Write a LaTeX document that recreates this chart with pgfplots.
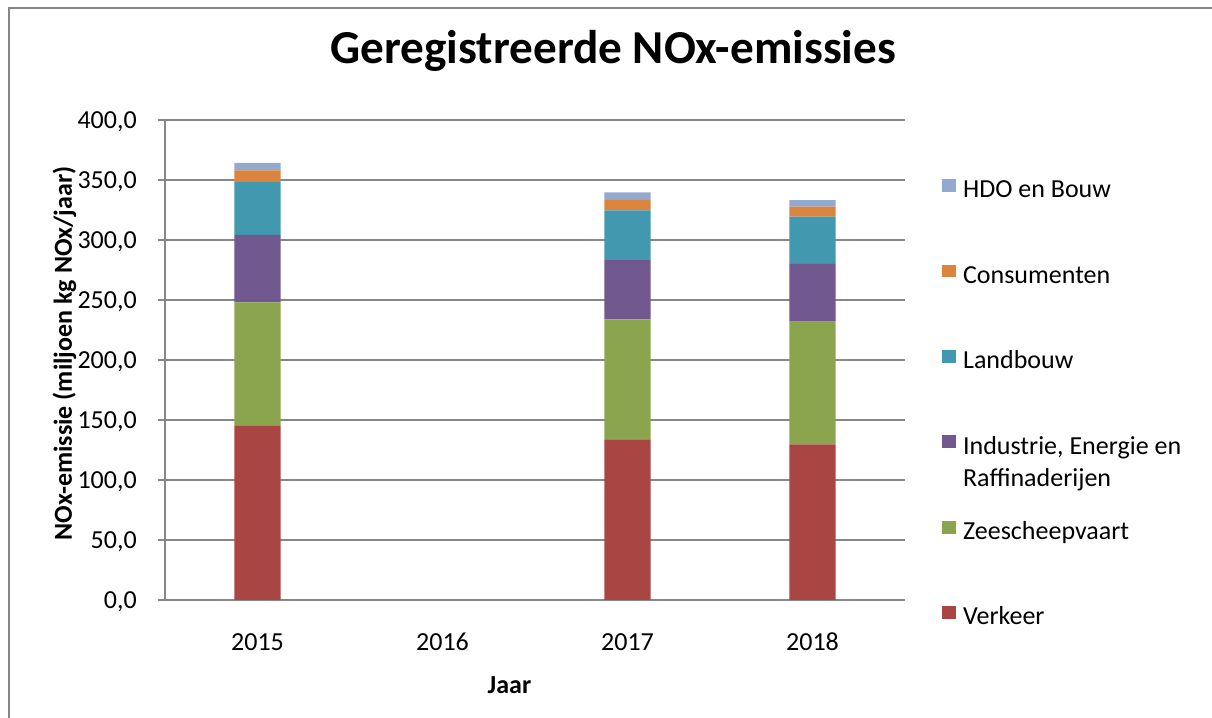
\documentclass[border=0pt]{standalone}
\usepackage{fontspec}
\setmainfont{Carlito}
\usepackage{pgfplots}
\pgfplotsset{compat=1.18}

\definecolor{gridgray}{HTML}{878787}
\definecolor{cVerkeer}{HTML}{A94644}
\definecolor{cZee}{HTML}{8AA54E}
\definecolor{cInd}{HTML}{71588F}
\definecolor{cLand}{HTML}{4198AF}
\definecolor{cCons}{HTML}{DB843D}
\definecolor{cHdo}{HTML}{93A9CF}

\newcommand{\txt}{\fontsize{18.5}{22.8}\selectfont}

\begin{document}
\begin{tikzpicture}
% 1 px of the reference = 0.025cm
\useasboundingbox (0cm,0cm) rectangle (30.3cm,17.95cm);
% outer chart frame (left and top edge visible)
\draw[gridgray, line width=1.4pt] (0.225cm,0cm) -- (0.225cm,17.75cm) -- (30.3cm,17.75cm);

\begin{axis}[
    at={(4.125cm,2.95cm)}, anchor=south west,
    scale only axis,
    width=18.5cm, height=12cm,
    ybar stacked,
    bar width=0.25,
    xmin=-0.5, xmax=3.5,
    ymin=0, ymax=400,
    enlargelimits=false,
    xtick={0,1,2,3},
    xticklabels={2015,2016,2017,2018},
    ytick={0,50,...,400},
    axis x line=bottom, axis y line=left,
    axis line style={-, draw=gridgray, line width=1.1pt},
    ymajorgrids,
    grid style={gridgray, line width=1.1pt},
    xtick style={draw=none},
    ytick style={draw=gridgray, line width=1.1pt},
    tick align=outside,
    major tick length=5pt,
    font=\txt,
    /pgf/number format/.cd, fixed, fixed zerofill, precision=1, use comma,
        assume math mode=true,
    /pgfplots/.cd,
    yticklabel style={anchor=base east, inner sep=0pt, xshift=-14.9pt, yshift=-5.7pt},
    xticklabel style={anchor=base, inner sep=0pt, yshift=-30.6pt},
    xlabel={\bfseries Jaar},
    ylabel={\bfseries NOx-emissie (miljoen kg NOx/jaar)},
    every axis x label/.style={at={(axis description cs:0.4655,-0.194)}, anchor=base},
    every axis y label/.style={at={(axis description cs:-0.1257,0.5135)}, rotate=90, anchor=base},
    title={Geregistreerde NOx-emissies},
    title style={at={(axis description cs:0.606,1.1)}, anchor=base,
        font=\fontsize{33.6}{40}\selectfont\bfseries},
    reverse legend,
    legend cell align=left,
    legend style={at={(axis description cs:1.05,0.877)}, anchor=north west,
        draw=none, inner sep=0pt, outer sep=0pt,
        row sep=43.6pt, column sep=5pt,
        nodes={inner sep=0pt, text height=12pt, text depth=4pt}},
    legend image code/.code={\fill[#1, draw=none] (0pt,0pt) rectangle (10pt,9.2pt);},
]
\addplot[fill=cVerkeer, draw=none] coordinates {(0,145.6) (2,133.9) (3,129.7)};
\addlegendentry{Verkeer}
\addplot[fill=cZee, draw=none] coordinates {(0,102.4) (2,100.0) (3,102.3)};
\addlegendentry{Zeescheepvaart}
\addplot[fill=cInd, draw=none] coordinates {(0,56.2) (2,49.4) (3,48.0)};
\addlegendentry{\raisebox{0pt}[0pt][0pt]{\begin{tabular}[t]{@{}l@{}}Industrie, Energie en\\Raffinaderijen\end{tabular}}}
\addplot[fill=cLand, draw=none] coordinates {(0,44.1) (2,41.4) (3,39.4)};
\addlegendentry{Landbouw}
\addplot[fill=cCons, draw=none] coordinates {(0,9.7) (2,8.6) (3,8.4)};
\addlegendentry{Consumenten}
\addplot[fill=cHdo, draw=none] coordinates {(0,6.2) (2,6.4) (3,5.5)};
\addlegendentry{HDO en Bouw}
\end{axis}
\end{tikzpicture}
\end{document}
